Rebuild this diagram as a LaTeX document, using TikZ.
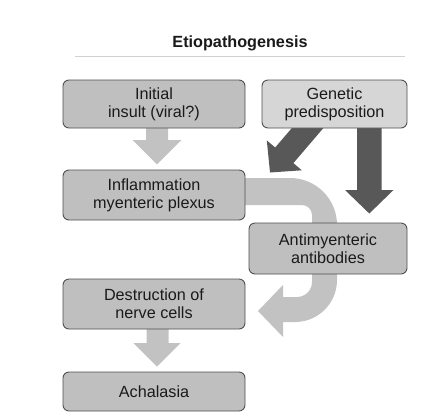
\documentclass[tikz,border=0pt]{standalone}
\usepackage{fontspec}
\setmainfont{Liberation Sans}
\usetikzlibrary{backgrounds}
\definecolor{boxfill}{HTML}{BFBFBF}
\definecolor{genfill}{HTML}{D6D6D6}
\definecolor{boxline}{HTML}{505050}
\definecolor{darkarrow}{HTML}{585858}
\definecolor{lightarrow}{HTML}{C2C2C2}
\definecolor{rulegray}{HTML}{D2D2D2}
\definecolor{txt}{HTML}{1A1A1A}
\begin{document}
\begin{tikzpicture}[x=1pt,y=-1pt,
  box/.style={draw=boxline, line width=0.9pt, fill=boxfill, rounded corners=6pt,
    align=center, text=txt, font=\fontsize{16.2}{18.3}\selectfont, inner sep=0pt},
  lightblk/.style={fill=lightarrow, draw=none},
  darkblk/.style={fill=darkarrow, draw=none}]
\useasboundingbox (0,0) rectangle (427,418);

% title
\node[anchor=base, text=txt, font=\bfseries\fontsize{16.2}{18}\selectfont] (title) at (240,47) {Etiopathogenesis};
\coordinate (ruleL) at (75,56);
\coordinate (ruleR) at (405,56);
\draw[rulegray, line width=1pt] (ruleL) -- (ruleR);

% boxes
\node[box, minimum width=182pt, minimum height=48pt] (b1) at (154,104) {Initial\\insult (viral?)};
\node[box, fill=genfill, minimum width=145pt, minimum height=48pt] (b2) at (334.5,104) {Genetic\\predisposition};
\node[box, minimum width=182pt, minimum height=50pt] (b3) at (154,195) {Inflammation\\myenteric plexus};
\node[box, minimum width=158pt, minimum height=51pt] (b4) at (328,248.5) {Antimyenteric\\antibodies};
\node[box, minimum width=182pt, minimum height=50pt] (b5) at (154,304) {Destruction of\\nerve cells};
\node[box, minimum width=182pt, minimum height=39pt] (b6) at (154,391.5) {Achalasia};

\begin{scope}[on background layer]
\fill[white] (0,0) rectangle (427,418);
% light arrow b1 -> b3
\fill[lightblk] (146,120) -- (168,120) -- (168,140) -- (181.5,140) -- (157,164.3) -- (132.5,140) -- (146,140) -- cycle;
% light arrow b5 -> b6
\fill[lightblk] (146.5,320) -- (168.5,320) -- (168.5,343) -- (180.5,343) -- (157,366.5) -- (133.5,343) -- (146.5,343) -- cycle;
% dark vertical arrow b2 -> b4
\fill[darkblk] (357,120) -- (381.5,120) -- (381.5,190) -- (393.5,190) -- (369.3,213.5) -- (345,190) -- (357,190) -- cycle;
% dark diagonal arrow b2 -> b3
\fill[darkblk] (291.9,128) -- (323.4,128) -- (293.4,163.1) -- (301.8,170.3) -- (270,172.5) -- (266.8,140.4) -- (275.2,147.5) -- cycle;
% light curved arrow b3 -> b5 (behind b4)
\fill[lightblk] (240,178) -- (290,178) .. controls (316,178) and (337,199) .. (337,225)
  -- (337,280) .. controls (337,303.2) and (318.2,322) .. (295,322)
  -- (283,322) -- (283,337) -- (258,311) -- (283,285) -- (283,297) -- (297,297)
  .. controls (305.3,297) and (312,290.3) .. (312,282)
  -- (312,215) .. controls (312,209.5) and (307.5,205) .. (302,205)
  -- (240,205) -- cycle;
\end{scope}
\end{tikzpicture}
\end{document}
